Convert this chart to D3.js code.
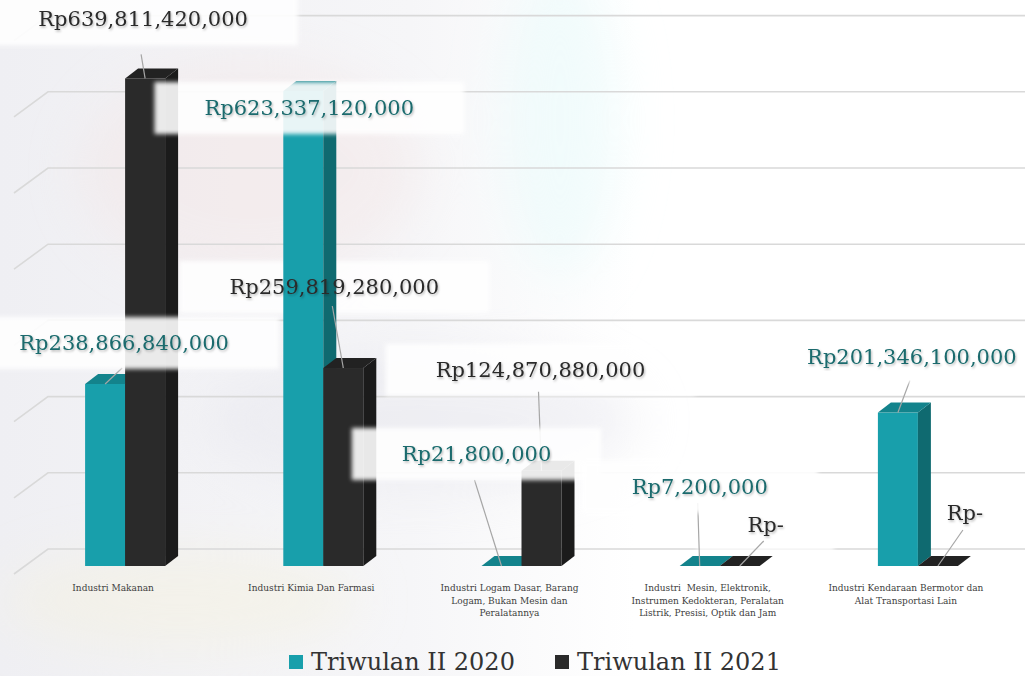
<!DOCTYPE html>
<html>
<head>
<meta charset="utf-8">
<script src="https://cdn.jsdelivr.net/npm/d3@7"></script>
<style>
body { margin: 0; background: #fff; }
svg { display: block; }
</style>
</head>
<body>
<svg id="chart" width="1025" height="676"></svg>
<script>
// data
var categories = [
    ["Industri Makanan"],
    ["Industri Kimia Dan Farmasi"],
    ["Industri Logam Dasar, Barang", "Logam, Bukan Mesin dan", "Peralatannya"],
    ["Industri  Mesin, Elektronik,", "Instrumen Kedokteran, Peralatan", "Listrik, Presisi, Optik dan Jam"],
    ["Industri Kendaraan Bermotor dan", "Alat Transportasi Lain"]
];
var seriesNames = ["Triwulan II 2020", "Triwulan II 2021"];
var values2020 = [238866840000, 623337120000, 21800000, 7200000, 201346100000];
var values2021 = [639811420000, 259819280000, 124870880000, 0, 0];
var gridTicks = [0, 100e9, 200e9, 300e9, 400e9, 500e9, 600e9, 700e9];

// label placement relative to bar top: [dx, dy, leader start dy]
var labelPos2020 = [[19, -41, 25], [6, 17, 0], [-25, -112, 26], [0, -79, 16], [14, -56, 24]];
var labelPos2021 = [[-2, -59, 35], [-9, -81, 19], [-1, -101, 22], [26, -41, 16], [27, -53, 17]];

var W = 1025, H = 676;
var depthX = 13, depthY = 10;     // bar depth
var wallX = 34, wallY = 25;       // floor depth
var barW = 40;

var svg = d3.select("#chart");
var defs = svg.append("defs");

defs.append("filter").attr("id", "blur").attr("x", "-10%").attr("y", "-30%").attr("width", "120%").attr("height", "160%")
    .append("feGaussianBlur").attr("stdDeviation", 2.2);
defs.append("filter").attr("id", "shadow")
    .append("feDropShadow").attr("dx", 1).attr("dy", 1.5).attr("stdDeviation", 1)
    .attr("flood-color", "#000").attr("flood-opacity", 0.28);
defs.append("filter").attr("id", "soft").append("feGaussianBlur").attr("stdDeviation", 25);

var bg = defs.append("linearGradient").attr("id", "bgGrad").attr("x1", 0).attr("x2", 1).attr("y1", 0).attr("y2", 0);
bg.append("stop").attr("offset", "0%").attr("stop-color", "#efeff3");
bg.append("stop").attr("offset", "40%").attr("stop-color", "#f6f6f8");
bg.append("stop").attr("offset", "62%").attr("stop-color", "#ffffff");

// faint watermark background
svg.append("rect").attr("width", W).attr("height", H).attr("fill", "url(#bgGrad)");
var wm = svg.append("g").attr("filter", "url(#soft)").attr("opacity", 0.5);
wm.append("ellipse").attr("cx", 250).attr("cy", 170).attr("rx", 170).attr("ry", 110).attr("fill", "#f3e6e6");
wm.append("ellipse").attr("cx", 560).attr("cy", 120).attr("rx", 60).attr("ry", 160).attr("fill", "#e6fbfb");
wm.append("ellipse").attr("cx", 180).attr("cy", 600).attr("rx", 180).attr("ry", 50).attr("fill", "#f4f1df");
wm.append("ellipse").attr("cx", 420).attr("cy", 420).attr("rx", 220).attr("ry", 70).attr("fill", "#e7e7ee");

// scales
var x = d3.scaleBand().domain(d3.range(categories.length)).range([26, 1017]);
var xs = d3.scaleBand().domain(seriesNames).range([0, 2 * barW]);
var y = d3.scaleLinear().domain([0, 700e9]).range([574, 574 - 700 * 0.762]);
var yFront = function (v) { return y(v) - 8; };

// gridlines on back wall
svg.append("g").selectAll("polyline").data(gridTicks).enter().append("polyline")
    .attr("points", function (d) {
        return [[14, y(d)], [14 + wallX, y(d) - wallY], [W, y(d) - wallY]].join(" ");
    })
    .attr("fill", "none").attr("stroke", "#d9d9d9").attr("stroke-width", 1.6);

var colors = {
    "Triwulan II 2020": { front: "#189fab", side: "#0f6a70", top: "#13838c", text: "#1a6b6d" },
    "Triwulan II 2021": { front: "#2a2a2a", side: "#1b1b1b", top: "#222222", text: "#2b2b2b" }
};

var series = [
    { name: seriesNames[0], values: values2020, pos: labelPos2020 },
    { name: seriesNames[1], values: values2021, pos: labelPos2021 }
];

var fmt = d3.format(",");
var labelText = function (v) { return v > 0 ? "Rp" + fmt(v) : "Rp-"; };

var points = [];
series.forEach(function (s) {
    s.values.forEach(function (v, i) {
        var bx = x(i) + x.bandwidth() / 2 - barW + xs(s.name);
        var top = yFront(v);
        var p = s.pos[i];
        var ax = bx + barW / 2;
        points.push({
            s: s.name, v: v, i: i, x: bx, top: top, base: yFront(0),
            ax: ax, ay: top, lx: ax + p[0], ly: top + p[1], lead: p[2]
        });
    });
});

var layerBack = svg.append("g");
var layerBars = svg.append("g");
var layerLead = svg.append("g");
var layerFront = svg.append("g");
var layerText = svg.append("g");

// 3d bars, draw category by category so the right bar covers the left bar's side
d3.range(categories.length).forEach(function (i) {
    points.filter(function (d) { return d.i === i; }).forEach(function (d) {
        var c = colors[d.s];
        var g = layerBars.append("g");
        g.append("rect").attr("x", d.x).attr("y", d.top).attr("width", barW).attr("height", d.base - d.top).attr("fill", c.front);
        g.append("polygon").attr("points", [[d.x + barW, d.top], [d.x + barW + depthX, d.top - depthY],
            [d.x + barW + depthX, d.base - depthY], [d.x + barW, d.base]].join(" ")).attr("fill", c.side);
        g.append("polygon").attr("points", [[d.x, d.top], [d.x + depthX, d.top - depthY],
            [d.x + barW + depthX, d.top - depthY], [d.x + barW, d.top]].join(" ")).attr("fill", c.top);
    });
});

// label text first to measure
points.forEach(function (d) {
    var t = layerText.append("text")
        .attr("x", d.lx).attr("y", d.ly)
        .attr("text-anchor", "middle").attr("dominant-baseline", "central")
        .attr("font-family", "DejaVu Serif").attr("font-size", 21)
        .attr("fill", colors[d.s].text).attr("filter", "url(#shadow)")
        .text(labelText(d.v));
    d.bb = t.node().getBBox();
});

// white label boxes: 2021 behind bars, 2020 in front of bars
points.forEach(function (d) {
    var layer = d.s === seriesNames[0] ? layerFront : layerBack;
    layer.append("rect")
        .attr("x", d.bb.x - 50).attr("y", d.ly - 26)
        .attr("width", d.bb.width + 100).attr("height", 52)
        .attr("fill", "#fff").attr("opacity", 0.9).attr("filter", "url(#blur)");
});

// leader lines
points.forEach(function (d) {
    if (d.lead <= 0) return;
    layerLead.append("line")
        .attr("x1", d.lx - 2).attr("y1", d.ly + d.lead)
        .attr("x2", d.ax).attr("y2", d.ay)
        .attr("stroke", "#a6a6a6").attr("stroke-width", 1.2);
});

// category labels
var cat = svg.append("g");
categories.forEach(function (lines, i) {
    var t = cat.append("text")
        .attr("x", x(i) + x.bandwidth() / 2 - 12).attr("y", 591)
        .attr("text-anchor", "middle")
        .attr("font-family", "DejaVu Serif").attr("font-size", 9)
        .attr("fill", "#404040");
    lines.forEach(function (l, j) {
        t.append("tspan").attr("x", x(i) + x.bandwidth() / 2 - 12).attr("dy", j === 0 ? 0 : 12.5)
            .attr("xml:space", "preserve").text(l);
    });
});

// legend
var legendX = [289, 555];
var leg = svg.append("g");
seriesNames.forEach(function (n, k) {
    leg.append("rect").attr("x", legendX[k]).attr("y", 655).attr("width", 14).attr("height", 14)
        .attr("fill", colors[n].front);
    leg.append("text").attr("x", legendX[k] + 22).attr("y", 670)
        .attr("font-family", "DejaVu Serif").attr("font-size", 24)
        .attr("fill", "#333").text(n);
});
</script>
</body>
</html>
